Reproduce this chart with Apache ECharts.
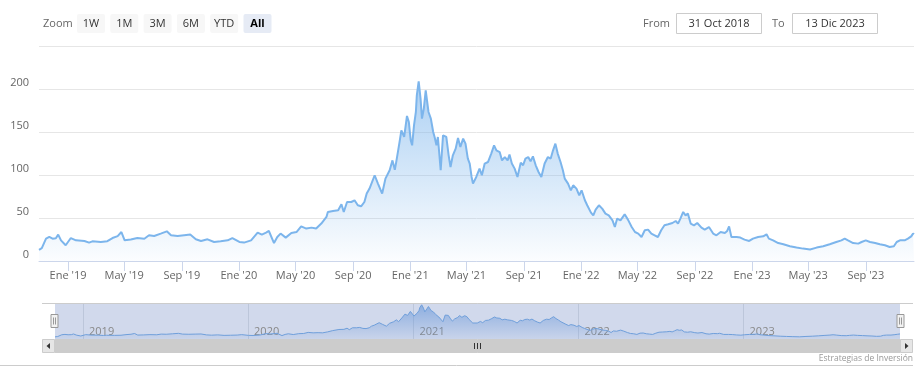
<!DOCTYPE html>
<html>
<head>
<meta charset="utf-8">
<script src="https://cdn.jsdelivr.net/npm/echarts@6/dist/echarts.min.js"></script>
<style>
html,body{margin:0;padding:0;background:#fff;}
#chart{width:924px;height:380px;}
</style>
</head>
<body>
<div id="chart"></div>
<script>
// ---- data ----
const dates = [
'2018-10-31','2018-11-06','2018-11-15','2018-11-22','2018-11-29','2018-12-06','2018-12-11','2018-12-17','2018-12-27',
'2019-01-07','2019-01-18','2019-02-05','2019-02-15','2019-02-22','2019-03-12','2019-03-26','2019-04-06','2019-04-17','2019-04-25',
'2019-05-02','2019-05-15','2019-05-29','2019-06-13','2019-06-23','2019-07-04','2019-07-18','2019-07-31','2019-08-09','2019-08-23',
'2019-09-06','2019-09-19','2019-10-01','2019-10-12','2019-10-26','2019-11-09','2019-11-23','2019-12-08','2019-12-18',
'2020-01-02','2020-01-12','2020-01-27','2020-02-10','2020-02-19','2020-02-28','2020-03-05','2020-03-16','2020-03-23','2020-03-30',
'2020-04-10','2020-04-22','2020-05-03','2020-05-13','2020-05-24','2020-06-04','2020-06-14','2020-06-25','2020-07-06','2020-07-09',
'2020-07-20','2020-07-31','2020-08-07','2020-08-12','2020-08-19','2020-08-28','2020-09-04','2020-09-11','2020-09-18','2020-09-25',
'2020-09-30','2020-10-06','2020-10-17','2020-10-24','2020-11-02','2020-11-09','2020-11-18','2020-11-24','2020-11-29','2020-12-02',
'2020-12-06','2020-12-09','2020-12-13','2020-12-19','2020-12-25','2020-12-29',
'2021-01-02','2021-01-05','2021-01-09','2021-01-13','2021-01-15','2021-01-19','2021-01-23','2021-01-26','2021-01-30','2021-02-03',
'2021-02-06','2021-02-09','2021-02-14','2021-02-19','2021-02-22','2021-02-26','2021-03-01','2021-03-07','2021-03-12','2021-03-19',
'2021-03-24','2021-03-28','2021-04-02','2021-04-08','2021-04-13','2021-04-18','2021-04-24','2021-04-29','2021-05-04','2021-05-08',
'2021-05-12','2021-05-15','2021-05-22','2021-05-29','2021-06-03','2021-06-09','2021-06-16','2021-06-23','2021-06-29','2021-07-04',
'2021-07-11','2021-07-16','2021-07-22','2021-07-28','2021-08-01','2021-08-06','2021-08-12','2021-08-18','2021-08-25','2021-08-30',
'2021-09-04','2021-09-10','2021-09-15','2021-09-20','2021-09-26','2021-10-02','2021-10-08','2021-10-15','2021-10-22','2021-10-28',
'2021-11-02','2021-11-07','2021-11-12','2021-11-18','2021-11-23','2021-11-27','2021-12-04','2021-12-10','2021-12-15','2021-12-22',
'2021-12-28',
'2022-01-02','2022-01-09','2022-01-14','2022-01-22','2022-01-27','2022-02-01','2022-02-08','2022-02-15','2022-02-22','2022-03-01',
'2022-03-09','2022-03-14','2022-03-19','2022-03-26','2022-04-04','2022-04-11','2022-04-19','2022-04-26','2022-05-03','2022-05-10',
'2022-05-17','2022-05-24','2022-05-31','2022-06-07','2022-06-14','2022-06-21','2022-06-28','2022-07-06','2022-07-15','2022-07-22',
'2022-07-27','2022-08-01','2022-08-07','2022-08-12','2022-08-17','2022-08-23','2022-08-30','2022-09-06','2022-09-15','2022-09-22',
'2022-10-01','2022-10-10','2022-10-17','2022-10-26','2022-11-04','2022-11-09','2022-11-13','2022-11-18','2022-11-29','2022-12-07',
'2022-12-16','2022-12-26',
'2023-01-03','2023-01-14','2023-01-25','2023-02-01','2023-02-06','2023-02-15','2023-02-26','2023-03-09','2023-03-23','2023-04-06',
'2023-04-20','2023-05-05','2023-05-19','2023-06-02','2023-06-16','2023-06-30','2023-07-11','2023-07-18','2023-07-25','2023-08-05',
'2023-08-16','2023-08-23','2023-09-01','2023-09-10','2023-09-21','2023-10-01','2023-10-12','2023-10-22','2023-10-31','2023-11-06',
'2023-11-13','2023-11-23','2023-11-30','2023-12-07','2023-12-11','2023-12-13'
];
const values = [
13,15,26,28,26,26.5,30.7,24,18.3,
26.7,24,23.3,21.4,22.9,22.2,23,26.7,29,33.7,
24,25,26.7,25.8,29.9,29,31.8,34.5,29.9,29,
29.9,30.7,25.2,23.3,25.2,22.1,23,24,26.7,
22.1,21.4,24,33,30.7,33,34.9,20.9,27.9,31.9,
27.2,32.6,33.7,40.3,37.7,38.8,37.7,43.5,51.2,57,
58.1,59,65.9,57,68.6,68.6,70.6,64.8,63.6,68.6,
78.4,84.2,99.7,90,78.4,95.8,105.5,117,106,115,
128,138,152,144.2,168.6,161.6,
140.3,134.5,157.8,173.3,192.7,209,188.8,165.5,177.2,198.5,
196.5,173.3,165.5,150,144.2,134.5,144.2,105.5,146.2,144.2,
122.9,109.3,122.9,130.7,143,132.6,142.3,136.5,119.1,113.3,
97.7,90,97.7,107.4,99.7,113.3,115.1,124.9,134.5,128.7,
126.7,117,120.9,117,123.7,113.3,107.4,97.7,114.4,111.3,
119.1,120.9,115.9,121.7,111.3,103.5,97.7,113.3,120.9,119.1,
128.7,136.5,124.9,115.1,105.5,95.8,90,82.2,88,84.2,
76.4,
82.2,70.6,64.8,56.3,53.1,59.8,64.8,60.9,55.1,53.1,
47.3,39.5,49.3,47.3,54.3,48.1,39.5,33.7,31.9,27.9,
35.7,36.5,31.9,29.9,27.9,35.7,41.5,42.7,44.2,46.5,
43.5,49.3,57,53.1,55.1,43.5,41.5,44.2,38.8,36.5,
39.5,31.9,29.9,33.7,32.6,34.9,40.3,27.9,27.9,27.2,
24.9,23.3,
26,27.9,28.7,31,26,24,20.9,19.4,17.1,15.6,
14.4,13.3,15.6,17.1,19.4,22.1,24,26,24,20.9,
20.2,22.1,24,22.1,20.9,19.4,18.3,16.3,17.1,22.1,
24,24,26,28.7,31.9,31
];
const rangeStart = '2018-10-31';
const rangeEnd = '2023-12-13';
const xTickDates = ['2019-01-01','2019-05-01','2019-09-01','2020-01-01','2020-05-01','2020-09-01','2021-01-01','2021-05-01',
  '2021-09-01','2022-01-01','2022-05-01','2022-09-01','2023-01-01','2023-05-01','2023-09-01'];
const monthNames = ['Ene','Feb','Mar','Abr','May','Jun','Jul','Ago','Sep','Oct','Nov','Dic'];
const navYearDates = ['2019-01-01','2020-01-01','2021-01-01','2022-01-01','2023-01-01'];
const zoomButtons = ['1W','1M','3M','6M','YTD','All'];
const selectedButton = 'All';
const fromText = '31 Oct 2018';
const toText = '13 Dic 2023';
const creditText = 'Estrategias de Inversión';

// ---- chart ----
const FONT = '"Open Sans", "DejaVu Sans", sans-serif';
const ts = s => Date.parse(s + 'T00:00:00Z');
const seriesData = dates.map((d, i) => [ts(d), values[i]]);
const xTicks = xTickDates.map(ts);
const navTicks = navYearDates.map(ts);
const chart = echarts.init(document.getElementById('chart'), null, {renderer: 'canvas'});

const graphics = [];
// toolbar
graphics.push({type:'text', x:43, y:24, z:20, style:{text:'Zoom', fill:'#666666', fontSize:11, fontFamily:FONT, align:'left', verticalAlign:'middle'}});
zoomButtons.forEach((b, i) => {
  const bx = 77 + i * 33.3;
  const sel = b === selectedButton;
  graphics.push({type:'rect', z:20, shape:{x:bx, y:14, width:28, height:19, r:2},
    style:{fill: sel ? '#e6ebf5' : '#f7f7f7'}});
  graphics.push({type:'text', z:21, x:bx + 14, y:24, style:{text:b, fill: sel ? '#000000' : '#333333',
    fontSize:11, fontWeight: sel ? 'bold' : 'normal', fontFamily:FONT, align:'center', verticalAlign:'middle'}});
});
graphics.push({type:'text', x:670, y:23.5, z:20, style:{text:'From', fill:'#666666', fontSize:11, fontFamily:FONT, align:'right', verticalAlign:'middle'}});
graphics.push({type:'rect', z:20, shape:{x:676.5, y:13.5, width:85, height:20}, style:{fill:'#ffffff', stroke:'#cccccc', lineWidth:1}});
graphics.push({type:'text', x:719, y:23.5, z:21, style:{text:fromText, fill:'#333333', fontSize:11, fontFamily:FONT, align:'center', verticalAlign:'middle'}});
graphics.push({type:'text', x:772, y:23.5, z:20, style:{text:'To', fill:'#666666', fontSize:11, fontFamily:FONT, align:'left', verticalAlign:'middle'}});
graphics.push({type:'rect', z:20, shape:{x:792.5, y:13.5, width:85, height:20}, style:{fill:'#ffffff', stroke:'#cccccc', lineWidth:1}});
graphics.push({type:'text', x:835, y:23.5, z:21, style:{text:toText, fill:'#333333', fontSize:11, fontFamily:FONT, align:'center', verticalAlign:'middle'}});

// navigator outline + scrollbar
graphics.push({type:'line', z:5, shape:{x1:42, y1:303.5, x2:913, y2:303.5}, style:{stroke:'#cccccc', lineWidth:1}});
graphics.push({type:'rect', z:5, shape:{x:42, y:339.5, width:871, height:13}, style:{fill:'#f2f2f2'}});
graphics.push({type:'rect', z:6, shape:{x:55, y:339.5, width:845, height:13}, style:{fill:'#cccccc', stroke:'#cccccc', lineWidth:1}});
graphics.push({type:'rect', z:7, shape:{x:42.5, y:339.5, width:12, height:13}, style:{fill:'#e6e6e6', stroke:'#cccccc', lineWidth:1}});
graphics.push({type:'polygon', z:8, shape:{points:[[50,343],[50,349],[46.5,346]]}, style:{fill:'#333333'}});
graphics.push({type:'rect', z:7, shape:{x:900.5, y:339.5, width:12, height:13}, style:{fill:'#e6e6e6', stroke:'#cccccc', lineWidth:1}});
graphics.push({type:'polygon', z:8, shape:{points:[[905,343],[905,349],[908.5,346]]}, style:{fill:'#333333'}});
[474.5, 477.5, 480.5].forEach(gx => {
  graphics.push({type:'line', z:8, shape:{x1:gx, y1:343, x2:gx, y2:349}, style:{stroke:'#333333', lineWidth:1}});
});
// navigator handles
[54.5, 900.5].forEach(hx => {
  graphics.push({type:'rect', z:9, shape:{x:hx - 3.5, y:314.5, width:7, height:13}, style:{fill:'#f2f2f2', stroke:'#999999', lineWidth:1}});
  graphics.push({type:'line', z:10, shape:{x1:hx - 1, y1:317.5, x2:hx - 1, y2:324.5}, style:{stroke:'#999999', lineWidth:1}});
  graphics.push({type:'line', z:10, shape:{x1:hx + 1, y1:317.5, x2:hx + 1, y2:324.5}, style:{stroke:'#999999', lineWidth:1}});
});
// credits and bottom border
graphics.push({type:'text', x:913, y:359, z:20, style:{text:creditText, fill:'#999999', fontSize:8.5, fontFamily:FONT, align:'right', verticalAlign:'middle'}});
graphics.push({type:'line', z:5, shape:{x1:0, y1:365.5, x2:913, y2:365.5}, style:{stroke:'#cccccc', lineWidth:1}});

const option = {
  animation: false,
  backgroundColor: '#ffffff',
  textStyle: {fontFamily: FONT},
  grid: [
    {left: 39, right: 10, top: 46, height: 215, containLabel: false},
    {left: 55, right: 24, top: 303, height: 36, show: true, backgroundColor: '#d1d9ec', borderWidth: 0}
  ],
  xAxis: [
    {
      type: 'value', gridIndex: 0, min: ts(rangeStart), max: ts(rangeEnd), scale: true,
      axisLine: {show: true, lineStyle: {color: '#ccd6eb', width: 1}},
      axisTick: {show: true, customValues: xTicks, length: 10, lineStyle: {color: '#ccd6eb'}},
      axisLabel: {show: true, customValues: xTicks, color: '#666666', fontSize: 11, fontFamily: FONT, margin: 9,
        formatter: function (v) {
          const d = new Date(v);
          return monthNames[d.getUTCMonth()] + " '" + String(d.getUTCFullYear()).slice(2);
        }},
      splitLine: {show: false}
    },
    {
      type: 'value', gridIndex: 1, min: ts(rangeStart), max: ts(rangeEnd), scale: true,
      axisLine: {show: false},
      axisTick: {show: true, inside: true, customValues: navTicks, length: 36, lineStyle: {color: '#bcc6da'}},
      axisLabel: {show: true, inside: true, customValues: navTicks, color: '#888888', fontSize: 11, fontFamily: FONT,
        align: 'left', verticalAlign: 'bottom', margin: 2, padding: [0, 0, 0, 6],
        formatter: function (v) { return String(new Date(v).getUTCFullYear()); }},
      splitLine: {show: false}
    }
  ],
  yAxis: [
    {
      type: 'value', gridIndex: 0, min: 0, max: 250, interval: 50,
      axisLine: {show: false}, axisTick: {show: false},
      splitLine: {show: true, lineStyle: {color: '#e6e6e6', width: 1}},
      axisLabel: {show: true, showMaxLabel: false, color: '#666666', fontSize: 11, fontFamily: FONT, margin: 10,
        align: 'right', verticalAlign: 'bottom', lineHeight: 13}
    },
    {
      type: 'value', gridIndex: 1, min: 0, max: 220,
      show: false, splitLine: {show: false}
    }
  ],
  series: [
    {
      type: 'line', xAxisIndex: 0, yAxisIndex: 0, data: seriesData,
      showSymbol: false, symbol: 'none', smooth: false,
      lineStyle: {color: '#7cb5ec', width: 2},
      itemStyle: {color: '#7cb5ec'},
      areaStyle: {
        color: new echarts.graphic.LinearGradient(0, 0, 0, 1, [
          {offset: 0, color: 'rgba(124,181,236,0.9)'},
          {offset: 1, color: 'rgba(124,181,236,0.04)'}
        ])
      },
      z: 3
    },
    {
      type: 'line', xAxisIndex: 1, yAxisIndex: 1, data: seriesData,
      showSymbol: false, symbol: 'none', smooth: false,
      lineStyle: {color: '#6f9fdb', width: 1},
      areaStyle: {
        color: new echarts.graphic.LinearGradient(0, 0, 0, 1, [
          {offset: 0, color: 'rgba(95,145,215,0.85)'},
          {offset: 1, color: 'rgba(95,145,215,0.1)'}
        ])
      },
      z: 3
    }
  ],
  graphic: graphics
};
chart.setOption(option);
</script>
</body>
</html>
